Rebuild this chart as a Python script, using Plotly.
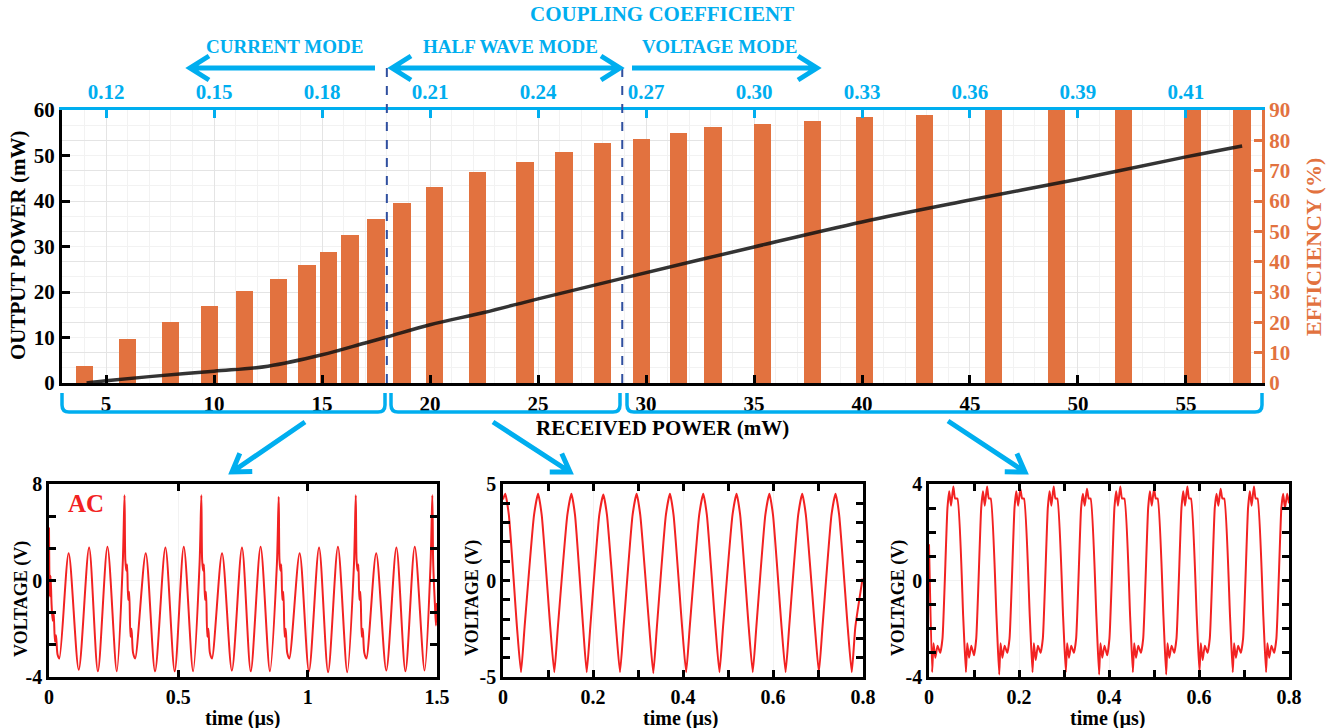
import math
import plotly.graph_objects as go

W, H = 1334, 728

# ---------------- data ----------------
RX_BAR = [4.0, 6.0, 8.0, 9.8, 11.4, 13.0, 14.3, 15.3, 16.3, 17.5, 18.7, 20.2, 22.2, 24.4,
          26.2, 28.0, 29.8, 31.5, 33.1, 35.4, 37.7, 40.1, 42.9, 46.1, 49.0, 52.1, 55.3, 57.6]
EFFICIENCY = [5.6, 14.5, 20.0, 25.4, 30.3, 34.3, 38.9, 43.2, 48.8, 54.0, 59.3, 64.6, 69.6, 72.9,
              76.2, 79.1, 80.4, 82.4, 84.4, 85.4, 86.4, 87.7, 88.4, 90.0, 90.0, 90.0, 90.0, 90.0]

RX_LINE = [4.1, 5, 7, 10, 12.5, 15, 17, 18, 20, 22.5, 25, 29, 35, 40, 45, 50, 55, 57.6]
OUTPUT_POWER = [0.0, 0.5, 1.4, 2.6, 3.7, 6.2, 8.8, 10.1, 12.8, 15.5, 18.5, 23.1, 29.9, 35.4,
                40.2, 44.8, 49.7, 52.1]

RX_TICKS = [5, 10, 15, 20, 25, 30, 35, 40, 45, 50, 55]
COUPLING_LABELS = ["0.12", "0.15", "0.18", "0.21", "0.24", "0.27", "0.30", "0.33", "0.36", "0.39", "0.41"]
MODE_BOUNDARIES = [18.0, 28.9]
MODE_NAMES = ["CURRENT MODE", "HALF WAVE MODE", "VOLTAGE MODE"]

# current mode (AC) waveform, time in us, voltage as on the panel scale
AC_T = [0.000, 0.003, 0.006, 0.010, 0.014, 0.018, 0.023, 0.027, 0.033, 0.040,
        0.076, 0.115, 0.155, 0.189, 0.226, 0.262,
        0.285, 0.292, 0.295, 0.299, 0.302, 0.306, 0.310, 0.315, 0.319, 0.325, 0.333,
        0.374, 0.410, 0.450, 0.486, 0.521, 0.557,
        0.582, 0.589, 0.592, 0.596, 0.599, 0.603, 0.607, 0.612, 0.616, 0.622, 0.630,
        0.669, 0.707, 0.746, 0.780, 0.818, 0.854,
        0.881, 0.888, 0.891, 0.895, 0.898, 0.902, 0.906, 0.911, 0.915, 0.921, 0.929,
        0.969, 1.005, 1.044, 1.079, 1.117, 1.153,
        1.179, 1.186, 1.189, 1.193, 1.196, 1.200, 1.204, 1.209, 1.213, 1.219, 1.227,
        1.265, 1.304, 1.343, 1.378, 1.414, 1.452,
        1.475, 1.482, 1.485, 1.489, 1.492, 1.496, 1.500]
AC_V = [5.3, 1.0, 2.3, 0.5, -0.5, 0.0, -1.8, -1.4, -2.6, -2.85,
        3.7, -3.55, 4.05, -3.65, 4.1, -3.65,
        3.0, 7.3, 3.3, 2.6, 3.0, 0.8, 1.3, -1.5, -1.0, -2.5, -2.85,
        3.7, -3.65, 4.05, -3.65, 4.1, -3.65,
        3.0, 7.3, 3.3, 2.6, 3.0, 0.8, 1.3, -1.5, -1.0, -2.5, -2.85,
        3.7, -3.6, 4.05, -3.65, 4.1, -3.65,
        3.0, 7.2, 3.3, 2.6, 3.0, 0.8, 1.3, -1.5, -1.0, -2.5, -2.85,
        3.7, -3.65, 4.05, -3.7, 4.1, -3.7,
        3.0, 7.3, 3.3, 2.6, 3.0, 0.8, 1.3, -1.5, -1.0, -2.5, -2.85,
        3.7, -3.6, 4.05, -3.65, 4.1, -3.6,
        3.0, 7.3, 3.3, 1.5, 0.5, -0.8, 0.6]

# half wave mode waveform
HW_T = [0.000, 0.005, 0.013, 0.031, 0.040, 0.048, 0.069,
        0.078, 0.086, 0.105, 0.114, 0.122, 0.143,
        0.152, 0.160, 0.178, 0.186, 0.194, 0.214,
        0.223, 0.231, 0.251, 0.260, 0.268, 0.288,
        0.297, 0.305, 0.325, 0.334, 0.342, 0.362,
        0.371, 0.379, 0.398, 0.407, 0.415, 0.436,
        0.445, 0.453, 0.472, 0.481, 0.489, 0.510,
        0.519, 0.527, 0.546, 0.555, 0.563, 0.583,
        0.592, 0.600, 0.619, 0.628, 0.636, 0.656,
        0.665, 0.673, 0.693, 0.702, 0.710, 0.730,
        0.739, 0.747, 0.766, 0.775, 0.783, 0.799]
HW_V = [4.2, 4.5, 3.4, -2.4, -4.75, -2.4, 3.4,
        4.5, 3.4, -2.4, -4.75, -2.4, 3.4,
        4.5, 3.4, -2.4, -4.75, -2.4, 3.4,
        4.45, 3.4, -2.4, -4.75, -2.4, 3.4,
        4.5, 3.4, -2.4, -4.8, -2.4, 3.4,
        4.5, 3.4, -2.4, -4.75, -2.4, 3.4,
        4.5, 3.4, -2.4, -4.75, -2.4, 3.4,
        4.5, 3.4, -2.4, -4.75, -2.4, 3.4,
        4.5, 3.4, -2.4, -4.75, -2.4, 3.4,
        4.5, 3.4, -2.4, -4.75, -2.4, 3.4,
        4.5, 3.4, -2.4, -4.75, -2.4, 0.1]

# voltage mode waveform
VM_T = [0.000, 0.007, 0.010, 0.014, 0.019, 0.025, 0.030, 0.041, 0.045, 0.049, 0.054, 0.058,
        0.063, 0.076, 0.082, 0.085, 0.089, 0.094, 0.100, 0.105, 0.116, 0.120, 0.124, 0.129, 0.133,
        0.137, 0.150, 0.156, 0.159, 0.163, 0.168, 0.174, 0.179, 0.190, 0.194, 0.198, 0.203, 0.207,
        0.211, 0.224, 0.230, 0.233, 0.237, 0.242, 0.248, 0.253, 0.264, 0.268, 0.272, 0.277, 0.281,
        0.285, 0.298, 0.304, 0.307, 0.311, 0.316, 0.322, 0.327, 0.338, 0.342, 0.346, 0.351, 0.355,
        0.359, 0.372, 0.378, 0.381, 0.385, 0.390, 0.396, 0.401, 0.412, 0.416, 0.420, 0.425, 0.429,
        0.434, 0.447, 0.453, 0.456, 0.460, 0.465, 0.471, 0.476, 0.487, 0.491, 0.495, 0.500, 0.504,
        0.508, 0.521, 0.527, 0.530, 0.534, 0.539, 0.545, 0.550, 0.561, 0.565, 0.569, 0.574, 0.578,
        0.582, 0.595, 0.601, 0.604, 0.608, 0.613, 0.619, 0.624, 0.635, 0.639, 0.643, 0.648, 0.652,
        0.656, 0.669, 0.675, 0.678, 0.682, 0.687, 0.693, 0.698, 0.709, 0.713, 0.717, 0.722, 0.726,
        0.730, 0.743, 0.749, 0.752, 0.756, 0.761, 0.767, 0.772, 0.783, 0.787, 0.791, 0.796, 0.800]
VM_V = [1.5, -3.8, -2.6, -3.2, -2.7, -3.0, -2.4, 3.0, 3.7, 3.1, 3.9, 3.4,
        3.4, -1.5, -3.8, -2.6, -3.2, -2.7, -3.1, -2.4, 3.0, 3.7, 3.1, 3.9, 3.4,
        3.4, -1.5, -3.9, -2.6, -3.2, -2.7, -3.0, -2.4, 3.0, 3.7, 3.1, 3.8, 3.4,
        3.4, -1.5, -3.8, -2.6, -3.3, -2.7, -3.0, -2.4, 3.0, 3.7, 3.1, 3.9, 3.4,
        3.4, -1.5, -3.8, -2.6, -3.2, -2.7, -3.0, -2.4, 3.0, 3.6, 3.1, 3.8, 3.4,
        3.4, -1.5, -3.9, -2.6, -3.2, -2.7, -3.1, -2.4, 3.0, 3.7, 3.1, 3.9, 3.4,
        3.4, -1.5, -3.8, -2.6, -3.2, -2.7, -3.0, -2.4, 3.0, 3.7, 3.1, 3.8, 3.4,
        3.4, -1.5, -3.9, -2.6, -3.2, -2.7, -3.0, -2.4, 3.0, 3.7, 3.1, 3.9, 3.4,
        3.4, -1.5, -3.8, -2.6, -3.3, -2.7, -3.0, -2.4, 3.0, 3.6, 3.1, 3.8, 3.4,
        3.4, -1.5, -3.8, -2.6, -3.2, -2.7, -3.0, -2.4, 3.0, 3.7, 3.1, 3.9, 3.4,
        3.4, -1.5, -3.8, -2.6, -3.2, -2.7, -3.0, -2.4, 3.0, 3.6, 3.0, 3.6, 3.2]

# ---------------- style ----------------
FONT = "Liberation Serif, Times New Roman, serif"
BLUE = "#00AEEF"
ORANGE = "#E2723F"
DASH = "#2F4F9F"
RED = "#F22222"
GRID = "#e4e4e4"
MINOR_GRID = "#f2f2f2"


def px(x):
    return x / W


def py(y):
    return 1 - y / H


def arrow_path(x0, y0, x1, y1, head=17, half=11, both=False):
    dx, dy = x1 - x0, y1 - y0
    L = math.hypot(dx, dy)
    ux, uy = dx / L, dy / L
    nx, ny = -uy, ux

    def chev(tx, ty, sx, sy):
        bx, by = tx - head * sx, ty - head * sy
        return (f"M{px(bx + half * nx)},{py(by + half * ny)} L{px(tx)},{py(ty)} "
                f"L{px(bx - half * nx)},{py(by - half * ny)}")

    p = f"M{px(x0)},{py(y0)} L{px(x1)},{py(y1)} " + chev(x1, y1, ux, uy)
    if both:
        p += " " + chev(x0, y0, -ux, -uy)
    return p


def bracket_path(xa, xb, ytop=393, ybot=412, r=7):
    return (f"M{px(xa)},{py(ytop)} L{px(xa)},{py(ybot - r)} Q{px(xa)},{py(ybot)} {px(xa + r)},{py(ybot)} "
            f"L{px(xb - r)},{py(ybot)} Q{px(xb)},{py(ybot)} {px(xb)},{py(ybot - r)} L{px(xb)},{py(ytop)}")


fig = go.Figure()

# main chart
fig.add_trace(go.Bar(x=RX_BAR, y=EFFICIENCY, width=0.8, marker=dict(color=ORANGE, line_width=0),
                     xaxis="x", yaxis="y", showlegend=False))
fig.add_trace(go.Scatter(x=RX_LINE, y=OUTPUT_POWER, mode="lines",
                         line=dict(color="#111111", width=3.5, shape="spline"), opacity=0.85,
                         xaxis="x", yaxis="y2", showlegend=False))
fig.add_trace(go.Scatter(x=[RX_TICKS[0]], y=[0], mode="markers", marker=dict(opacity=0),
                         xaxis="x2", yaxis="y", hoverinfo="skip", showlegend=False))

# waveform panels
fig.add_trace(go.Scatter(x=AC_T, y=AC_V, mode="lines", xaxis="x3", yaxis="y3",
                         line=dict(color=RED, width=2, shape="spline", smoothing=0.8), showlegend=False))
fig.add_trace(go.Scatter(x=HW_T, y=HW_V, mode="lines", xaxis="x4", yaxis="y4",
                         line=dict(color=RED, width=2, shape="spline", smoothing=0.5), showlegend=False))
fig.add_trace(go.Scatter(x=VM_T, y=VM_V, mode="lines", xaxis="x5", yaxis="y5",
                         line=dict(color=RED, width=2, shape="spline", smoothing=0.5), showlegend=False))

TS = 21
tick_font = dict(family=FONT, size=TS, color="black", weight="bold")
main_xdom = [px(62), px(1262)]
main_ydom = [py(383), py(110)]
xr = [2.96, 58.52]

layout = dict(
    width=W, height=H, margin=dict(l=0, r=0, t=0, b=0),
    paper_bgcolor="white", plot_bgcolor="white",
    font=dict(family=FONT, color="black"),
    bargap=0,
    xaxis=dict(domain=main_xdom, range=xr, anchor="y", tickmode="array", tickvals=RX_TICKS,
               ticktext=[str(v) for v in RX_TICKS], ticks="inside", ticklen=8, tickwidth=3,
               tickcolor="black", showline=True, linecolor="black", linewidth=3,
               showgrid=True, gridcolor=GRID, gridwidth=1, zeroline=False,
               minor=dict(tickmode="linear", tick0=0, dtick=1, showgrid=True, gridcolor=MINOR_GRID),
               tickfont=tick_font, automargin=False, fixedrange=True),
    xaxis2=dict(overlaying="x", side="top", anchor="y", range=xr, tickmode="array",
                tickvals=RX_TICKS, ticktext=COUPLING_LABELS, ticks="inside", ticklen=8, tickwidth=3,
                tickcolor=BLUE, showline=True, linecolor=BLUE, linewidth=3, showgrid=False,
                zeroline=False, tickfont=dict(family=FONT, size=TS, color=BLUE, weight="bold"),
                automargin=False),
    yaxis=dict(domain=main_ydom, range=[0, 90], side="right", anchor="x", dtick=10, tick0=0,
               ticks="inside", ticklen=8, tickwidth=3, tickcolor=ORANGE, showline=True,
               linecolor=ORANGE, linewidth=3, showgrid=True, gridcolor=GRID, zeroline=False,
               minor=dict(tickmode="linear", tick0=0, dtick=5, showgrid=True, gridcolor=MINOR_GRID),
               tickfont=dict(family=FONT, size=TS, color=ORANGE, weight="bold"), automargin=False),
    yaxis2=dict(overlaying="y", side="left", anchor="x", range=[0, 60], dtick=10, tick0=0,
                ticks="inside", ticklen=8, tickwidth=3, tickcolor="black", showline=True,
                linecolor="black", linewidth=3, showgrid=False, zeroline=False,
                tickfont=tick_font, automargin=False),
)

panel_ydom = [py(677), py(484)]
mk_minor = lambda d: dict(tickmode="linear", tick0=0, dtick=d, ticks="inside", ticklen=7,
                          tickwidth=2.5, tickcolor="black")
panels = [
    ("3", [px(49), px(437)], [0, 1.5], [-4, 8],
     dict(tickmode="array", tickvals=[0, 0.5, 1, 1.5], ticktext=["0", "0.5", "1", "1.5"]),
     dict(tickmode="array", tickvals=[-4, 2, 8], ticktext=["-4", "0", "8"]),
     None, mk_minor(2)),
    ("4", [px(503), px(863)], [0, 0.8], [-5, 5],
     dict(tickmode="array", tickvals=[0, 0.2, 0.4, 0.6, 0.8], ticktext=["0", "0.2", "0.4", "0.6", "0.8"]),
     dict(tickmode="array", tickvals=[-5, 0, 5], ticktext=["-5", "0", "5"]),
     mk_minor(0.1), mk_minor(1)),
    ("5", [px(929), px(1289)], [0, 0.8], [-4, 4],
     dict(tickmode="array", tickvals=[0, 0.2, 0.4, 0.6, 0.8], ticktext=["0", "0.2", "0.4", "0.6", "0.8"]),
     dict(tickmode="array", tickvals=[-4, 0, 4], ticktext=["-4", "0", "4"]),
     mk_minor(0.1), mk_minor(1)),
]
pfont = dict(family=FONT, size=20, color="black", weight="bold")
for n, xdom, xrng, yrng, xt, yt, xminor, yminor in panels:
    xa = dict(domain=xdom, range=xrng, anchor="y" + n, ticks="inside", ticklen=7, tickwidth=2.5,
              tickcolor="black", showline=True, linecolor="black", linewidth=2.5, mirror="ticks",
              showgrid=True, gridcolor=MINOR_GRID, zeroline=False, tickfont=pfont, automargin=False, **xt)
    if xminor:
        xa["minor"] = xminor
    ya = dict(domain=panel_ydom, range=yrng, anchor="x" + n, ticks="inside", ticklen=7, tickwidth=2.5,
              tickcolor="black", showline=True, linecolor="black", linewidth=2.5, mirror="ticks",
              showgrid=True, gridcolor=MINOR_GRID, zeroline=False, tickfont=pfont, automargin=False, **yt)
    if yminor:
        ya["minor"] = yminor
    layout["xaxis" + n] = xa
    layout["yaxis" + n] = ya

fig.update_layout(**layout)

# ---------------- shapes ----------------
shapes = []
for b in MODE_BOUNDARIES:
    shapes.append(dict(type="line", xref="x", yref="paper", x0=b, x1=b, y0=py(383), y1=py(64),
                       line=dict(color=DASH, width=2, dash="dash")))
blue_line = dict(color=BLUE, width=5)
shapes.append(dict(type="path", xref="paper", yref="paper", path=arrow_path(375, 68, 190, 68, head=19, half=12), line=blue_line))
shapes.append(dict(type="path", xref="paper", yref="paper", path=arrow_path(392, 68, 620, 68, head=19, half=12, both=True), line=blue_line))
shapes.append(dict(type="path", xref="paper", yref="paper", path=arrow_path(632, 68, 817, 68, head=19, half=12), line=blue_line))
for xa_, xb_ in [(62, 385), (391, 620), (627, 1262)]:
    shapes.append(dict(type="path", xref="paper", yref="paper", path=bracket_path(xa_, xb_),
                       line=dict(color=BLUE, width=3.5)))
for (x0, y0, x1, y1) in [(305, 422, 232, 472), (493, 422, 570, 472), (948, 421, 1025, 472)]:
    shapes.append(dict(type="path", xref="paper", yref="paper", path=arrow_path(x0, y0, x1, y1, head=17, half=11),
                       line=dict(color=BLUE, width=5)))
fig.update_layout(shapes=shapes)

# ---------------- text ----------------
def ann(text, x, y, size, color="black", angle=0):
    return dict(text=text, x=px(x), y=py(y), xref="paper", yref="paper", showarrow=False,
                xanchor="center", yanchor="middle", textangle=angle,
                font=dict(family=FONT, size=size, color=color, weight="bold"))

anns = [
    ann("COUPLING COEFFICIENT", 662, 14, 21, BLUE),
    ann(MODE_NAMES[0], 284, 47, 19, BLUE),
    ann(MODE_NAMES[1], 510, 47, 19, BLUE),
    ann(MODE_NAMES[2], 719, 47, 19, BLUE),
    ann("OUTPUT POWER (mW)", 18, 246, 21, "black", -90),
    ann("EFFICIENCY (%)", 1313, 247, 22, ORANGE, -90),
    ann("RECEIVED POWER (mW)", 662, 428, 21),
    ann("AC", 86, 503, 25, RED),
    ann("VOLTAGE (V)", 21, 599, 18, "black", -90),
    ann("VOLTAGE (V)", 472, 598, 18, "black", -90),
    ann("VOLTAGE (V)", 898, 598, 18, "black", -90),
    ann("time (µs)", 242, 718, 20),
    ann("time (µs)", 680, 718, 20),
    ann("time (µs)", 1107, 718, 20),
]
fig.update_layout(annotations=anns)

fig.write_html("out.html", config=dict(displayModeBar=False),
               post_script="document.body.style.margin='0';document.body.style.overflow='hidden';")
